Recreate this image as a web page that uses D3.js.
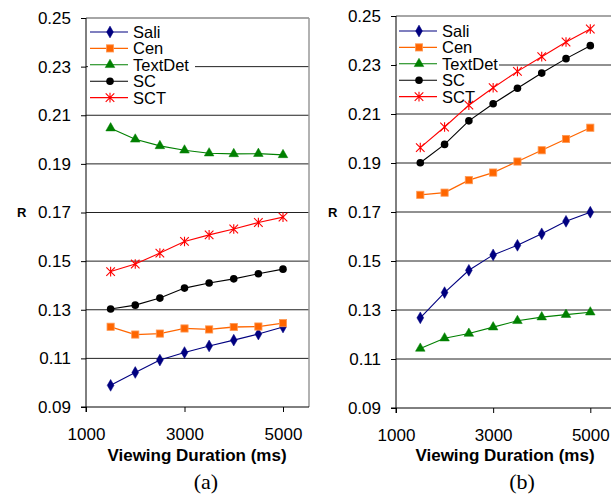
<!DOCTYPE html>
<html><head><meta charset="utf-8">
<script src="https://cdn.jsdelivr.net/npm/d3@7"></script>
<style>body{margin:0;background:#fff}svg{display:block}</style>
</head><body>
<svg id="c" width="611" height="498"></svg>
<script>
const durations = [1500, 2000, 2500, 3000, 3500, 4000, 4500, 5000];
const seriesNames = ["Sali", "Cen", "TextDet", "SC", "SCT"];
const yTicks = [0.09, 0.11, 0.13, 0.15, 0.17, 0.19, 0.21, 0.23, 0.25];
const xTicks = [1000, 3000, 5000];
// panel (a)
const aSali    = [0.0989, 0.1042, 0.1093, 0.1124, 0.1151, 0.1175, 0.1200, 0.1229];
const aCen     = [0.1230, 0.1198, 0.1202, 0.1223, 0.1219, 0.1229, 0.1231, 0.1245];
const aTextDet = [0.2047, 0.2001, 0.1974, 0.1956, 0.1944, 0.1941, 0.1942, 0.1937];
const aSC      = [0.1303, 0.1319, 0.1348, 0.1389, 0.1410, 0.1427, 0.1448, 0.1467];
const aSCT     = [0.1457, 0.1488, 0.1533, 0.1581, 0.1608, 0.1632, 0.1659, 0.1681];
// panel (b)
const bSali    = [0.1268, 0.1371, 0.1462, 0.1525, 0.1564, 0.1611, 0.1662, 0.1699];
const bCen     = [0.1770, 0.1779, 0.1830, 0.1861, 0.1906, 0.1952, 0.1998, 0.2044];
const bTextDet = [0.1143, 0.1185, 0.1204, 0.1230, 0.1256, 0.1271, 0.1281, 0.1291];
const bSC      = [0.1901, 0.1976, 0.2072, 0.2142, 0.2205, 0.2267, 0.2326, 0.2379];
const bSCT     = [0.1963, 0.2047, 0.2136, 0.2207, 0.2274, 0.2334, 0.2394, 0.2447];

const colors = {Sali:"#000080", Cen:"#FF6600", TextDet:"#008000", SC:"#000000", SCT:"#FF0000"};
const FONT = "'Liberation Sans', Arial, sans-serif";

const panels = [
  {label:"(a)", data:[aSali,aCen,aTextDet,aSC,aSCT], x0:86, x5000:283, right:309, top:18, bottom:407,
   legX:90, legY:32, legW:107, labelX:206, titleX:197, rX:17},
  {label:"(b)", data:[bSali,bCen,bTextDet,bSC,bSCT], x0:396, x5000:590.3, right:620, top:16, bottom:408,
   legX:399, legY:31, legW:102, labelX:522, titleX:505, rX:328}
];

const svg = d3.select("#c");

function marker(g, name, x, y) {
  const c = colors[name];
  if (name === "Sali") {
    g.append("path").attr("d", d3.symbol(d3.symbolDiamond, 40)()).attr("transform", `translate(${x},${y})`)
      .attr("fill", c).attr("stroke", c).attr("stroke-width", 0.5);
  } else if (name === "Cen") {
    g.append("rect").attr("x", x-3.6).attr("y", y-3.6).attr("width", 7.2).attr("height", 7.2)
      .attr("fill", c).attr("stroke", "#FF9955").attr("stroke-width", 0.8);
  } else if (name === "TextDet") {
    g.append("path").attr("d", d3.symbol(d3.symbolTriangle, 40)()).attr("transform", `translate(${x},${y})`)
      .attr("fill", c).attr("stroke", c).attr("stroke-width", 0.5);
  } else if (name === "SC") {
    g.append("circle").attr("cx", x).attr("cy", y).attr("r", 3.8).attr("fill", c);
  } else {
    const r = 4.3;
    g.append("path").attr("d", `M${x-r},${y-r}L${x+r},${y+r}M${x-r},${y+r}L${x+r},${y-r}M${x},${y-r-0.5}L${x},${y+r+0.5}`)
      .attr("stroke", c).attr("stroke-width", 1.1).attr("fill", "none");
  }
}

panels.forEach(p => {
  const x = d3.scaleLinear().domain([1000, 5000]).range([p.x0, p.x5000]);
  const y = d3.scaleLinear().domain([0.09, 0.25]).range([p.bottom, p.top]);
  const g = svg.append("g");

  g.selectAll(".grid").data(yTicks.slice(1, -1)).join("line")
    .attr("x1", p.x0).attr("x2", p.right).attr("y1", d => y(d)).attr("y2", d => y(d))
    .attr("stroke", "#222").attr("stroke-width", 1);
  g.append("line").attr("x1", p.x0).attr("x2", p.right).attr("y1", p.top).attr("y2", p.top)
    .attr("stroke", "#888").attr("stroke-width", 1.5);
  g.append("line").attr("x1", p.right).attr("x2", p.right).attr("y1", p.top).attr("y2", p.bottom)
    .attr("stroke", "#999").attr("stroke-width", 1.5);

  const yAxis = d3.axisLeft(y).tickValues(yTicks).tickFormat(d3.format(".2f")).tickSize(5).tickPadding(10);
  const ya = g.append("g").attr("transform", `translate(${p.x0},0)`).call(yAxis);
  const xAxis = d3.axisBottom(x).tickValues(xTicks).tickFormat(d3.format("d")).tickSize(5).tickPadding(16);
  const xa = g.append("g").attr("transform", `translate(0,${p.bottom})`).call(xAxis);
  [ya, xa].forEach(a => {
    a.select(".domain").remove();
    a.selectAll(".tick line").attr("stroke", "#000");
    a.selectAll(".tick text").attr("fill", "#000").style("font-family", FONT).style("font-size", "17px");
  });
  g.append("line").attr("x1", p.x0).attr("x2", p.x0).attr("y1", p.top).attr("y2", p.bottom + 5).attr("stroke", "#000");
  g.append("line").attr("x1", p.x0 - 5).attr("x2", p.right).attr("y1", p.bottom).attr("y2", p.bottom).attr("stroke", "#000");

  g.append("rect").attr("x", p.legX - 2).attr("y", p.legY - 10).attr("width", p.legW).attr("height", 80).attr("fill", "#fff");

  const line = d3.line().x((d, i) => x(durations[i])).y(d => y(d));
  seriesNames.forEach((name, si) => {
    const vals = p.data[si];
    g.append("path").datum(vals).attr("d", line).attr("fill", "none")
      .attr("stroke", colors[name]).attr("stroke-width", name === "Cen" ? 1.3 : 1.1);
    vals.forEach((v, i) => marker(g, name, x(durations[i]), y(v)));
  });

  seriesNames.forEach((name, si) => {
    const ly = p.legY + si * 16.4;
    g.append("line").attr("x1", p.legX).attr("x2", p.legX + 38).attr("y1", ly).attr("y2", ly)
      .attr("stroke", colors[name]).attr("stroke-width", 1.1);
    marker(g, name, p.legX + 20, ly);
    g.append("text").attr("x", p.legX + 43).attr("y", ly).attr("dy", "0.36em").text(name)
      .style("font-family", FONT).style("font-size", "16.5px").attr("fill", "#000");
  });

  g.append("text").attr("x", p.rX).attr("y", 212).attr("dy", "0.36em").text("R")
    .style("font-family", FONT).style("font-size", "13px").style("font-weight", "bold");
  g.append("text").attr("x", p.titleX).attr("y", 461).attr("text-anchor", "middle").text("Viewing Duration (ms)")
    .style("font-family", FONT).style("font-size", "17px").style("font-weight", "bold");
  g.append("text").attr("x", p.labelX).attr("y", 489).attr("text-anchor", "middle").text(p.label)
    .style("font-family", "'Liberation Serif', 'Times New Roman', serif").style("font-size", "22px");
});
</script>
</body></html>
